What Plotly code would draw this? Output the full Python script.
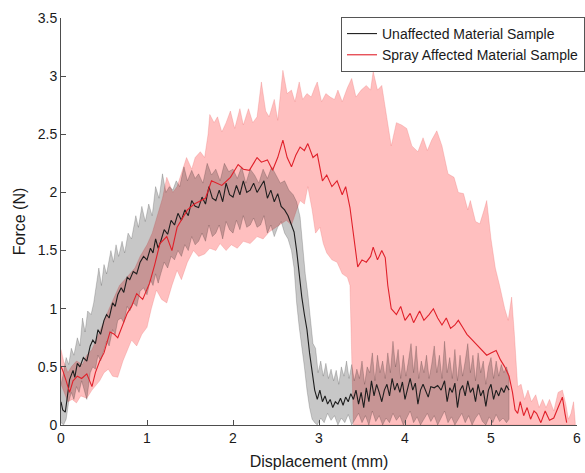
import plotly.graph_objects as go

# (displacement mm, force N)
red_mean = [
    (0.00, 0.50), (0.02, 0.47), (0.06, 0.38), (0.10, 0.28), (0.14, 0.38), (0.19, 0.42),
    (0.24, 0.40), (0.30, 0.44), (0.36, 0.33), (0.40, 0.45), (0.45, 0.55), (0.50, 0.62),
    (0.57, 0.80), (0.62, 0.78), (0.66, 0.75), (0.72, 0.86), (0.77, 0.96), (0.82, 1.02),
    (0.88, 1.13), (0.95, 1.08), (1.03, 1.22), (1.09, 1.38), (1.15, 1.56), (1.23, 1.62),
    (1.29, 1.50), (1.35, 1.70), (1.41, 1.78), (1.47, 1.85), (1.55, 1.90), (1.62, 1.93),
    (1.68, 1.95), (1.75, 2.10), (1.81, 2.08), (1.87, 2.06), (1.97, 2.13), (2.06, 2.24),
    (2.12, 2.20), (2.19, 2.19), (2.28, 2.30), (2.33, 2.26), (2.40, 2.28), (2.46, 2.19),
    (2.52, 2.30), (2.58, 2.45), (2.63, 2.30), (2.68, 2.22), (2.73, 2.32), (2.78, 2.39),
    (2.83, 2.36), (2.87, 2.42), (2.93, 2.30), (2.98, 2.33), (3.04, 2.10), (3.09, 2.15),
    (3.15, 2.05), (3.21, 2.10), (3.27, 1.98), (3.31, 2.05), (3.36, 1.87), (3.39, 1.70),
    (3.45, 1.36), (3.50, 1.42), (3.55, 1.40), (3.60, 1.45), (3.63, 1.53), (3.68, 1.42),
    (3.73, 1.50), (3.77, 1.44), (3.80, 1.20), (3.84, 1.00), (3.90, 0.95), (3.95, 1.02),
    (4.00, 0.90), (4.06, 0.96), (4.10, 0.88), (4.17, 0.98), (4.22, 0.90), (4.28, 0.95),
    (4.33, 1.00), (4.38, 0.92), (4.43, 0.86), (4.48, 0.92), (4.53, 0.83), (4.58, 0.86),
    (4.62, 0.90), (4.67, 0.84), (4.72, 0.78), (4.77, 0.74), (4.82, 0.70), (4.88, 0.66),
    (4.95, 0.60), (5.00, 0.62), (5.06, 0.64), (5.11, 0.56), (5.16, 0.50), (5.21, 0.42),
    (5.25, 0.28), (5.28, 0.13), (5.31, 0.10), (5.34, 0.20), (5.38, 0.08), (5.42, 0.15),
    (5.46, 0.05), (5.50, 0.12), (5.53, 0.10), (5.58, 0.02), (5.63, 0.12), (5.68, 0.04),
    (5.73, 0.06), (5.78, 0.15), (5.83, 0.24), (5.86, 0.10), (5.88, 0.02),
]

red_upper = [
    (0.00, 0.65), (0.03, 0.55), (0.08, 0.45), (0.12, 0.50), (0.18, 0.55), (0.25, 0.52),
    (0.30, 0.60), (0.36, 0.65), (0.42, 0.75), (0.50, 0.90), (0.56, 1.00), (0.62, 1.10),
    (0.68, 1.20), (0.74, 1.25), (0.80, 1.30), (0.86, 1.35), (0.92, 1.45), (1.00, 1.55),
    (1.06, 1.65), (1.12, 1.80), (1.18, 1.95), (1.23, 2.13), (1.30, 2.00), (1.35, 2.05),
    (1.40, 2.16), (1.46, 2.30), (1.52, 2.20), (1.56, 2.30), (1.62, 2.35), (1.67, 2.30),
    (1.71, 2.50), (1.73, 2.67), (1.78, 2.60), (1.82, 2.65), (1.87, 2.52), (1.92, 2.60),
    (1.97, 2.70), (2.02, 2.55), (2.08, 2.72), (2.12, 2.58), (2.18, 2.72), (2.23, 2.60),
    (2.28, 2.65), (2.33, 2.95), (2.38, 2.70), (2.42, 2.65), (2.48, 2.80), (2.52, 2.62),
    (2.58, 3.05), (2.63, 2.85), (2.68, 2.88), (2.72, 2.78), (2.77, 2.95), (2.81, 2.80),
    (2.86, 2.85), (2.91, 2.82), (2.95, 2.90), (2.98, 2.95), (3.03, 2.78), (3.08, 2.85),
    (3.13, 2.82), (3.18, 2.80), (3.22, 2.88), (3.27, 2.78), (3.33, 2.90), (3.38, 2.98),
    (3.43, 2.82), (3.49, 2.88), (3.55, 2.92), (3.60, 2.88), (3.63, 3.04), (3.68, 2.88),
    (3.73, 2.92), (3.78, 2.70), (3.84, 2.40), (3.90, 2.60), (3.96, 2.58), (4.02, 2.55),
    (4.08, 2.40), (4.15, 2.35), (4.21, 2.47), (4.26, 2.36), (4.31, 2.45), (4.37, 2.53),
    (4.43, 2.40), (4.50, 2.16), (4.57, 2.13), (4.62, 2.00), (4.68, 1.99), (4.73, 1.85),
    (4.76, 1.93), (4.82, 1.75), (4.87, 1.73), (4.92, 1.85), (4.95, 1.93), (5.00, 1.60),
    (5.05, 1.35), (5.10, 1.20), (5.16, 1.00), (5.20, 0.90), (5.24, 1.10), (5.27, 0.80),
    (5.31, 0.33), (5.35, 0.35), (5.39, 0.22), (5.43, 0.30), (5.47, 0.20), (5.52, 0.26),
    (5.56, 0.15), (5.60, 0.22), (5.64, 0.15), (5.68, 0.22), (5.73, 0.12), (5.78, 0.28),
    (5.83, 0.30), (5.87, 0.18), (5.90, 0.05), (5.93, 0.10), (5.96, 0.20), (5.98, 0.02),
]

red_lower = [
    (0.00, 0.35), (0.04, 0.28), (0.08, 0.20), (0.13, 0.22), (0.18, 0.19), (0.23, 0.25),
    (0.30, 0.23), (0.36, 0.30), (0.45, 0.38), (0.50, 0.45), (0.55, 0.48), (0.60, 0.42),
    (0.66, 0.41), (0.72, 0.55), (0.77, 0.64), (0.82, 0.73), (0.88, 0.68), (0.94, 0.78),
    (1.00, 0.84), (1.05, 1.00), (1.11, 1.16), (1.17, 1.08), (1.23, 1.05), (1.29, 1.20),
    (1.35, 1.33), (1.40, 1.25), (1.47, 1.40), (1.54, 1.50), (1.60, 1.45), (1.67, 1.47),
    (1.73, 1.52), (1.80, 1.50), (1.85, 1.56), (1.92, 1.50), (1.98, 1.55), (2.05, 1.52),
    (2.12, 1.58), (2.20, 1.56), (2.28, 1.62), (2.35, 1.60), (2.42, 1.66), (2.50, 1.70),
    (2.56, 1.73), (2.62, 1.76), (2.68, 1.72), (2.74, 1.85), (2.78, 1.93), (2.83, 1.90),
    (2.87, 2.05), (2.92, 1.85), (2.96, 1.65), (3.01, 1.70), (3.05, 1.56), (3.09, 1.48),
    (3.15, 1.42), (3.21, 1.40), (3.27, 1.30), (3.33, 1.27), (3.36, 1.20), (3.38, 0.60),
    (3.40, 0.00), (5.30, 0.00), (5.98, 0.00),
]

black_mean = [
    (0.00, 0.20), (0.02, 0.13), (0.05, 0.11), (0.08, 0.30), (0.10, 0.39), (0.14, 0.47),
    (0.16, 0.41), (0.19, 0.53), (0.22, 0.50), (0.26, 0.58), (0.30, 0.55), (0.34, 0.68),
    (0.37, 0.73), (0.40, 0.70), (0.43, 0.82), (0.46, 0.78), (0.50, 0.90), (0.53, 0.95),
    (0.56, 0.92), (0.60, 1.05), (0.63, 1.02), (0.66, 1.12), (0.70, 1.18), (0.73, 1.14),
    (0.77, 1.27), (0.80, 1.25), (0.84, 1.32), (0.88, 1.30), (0.92, 1.40), (0.96, 1.45),
    (1.00, 1.42), (1.04, 1.52), (1.07, 1.48), (1.10, 1.60), (1.13, 1.52), (1.16, 1.58),
    (1.20, 1.68), (1.24, 1.64), (1.28, 1.76), (1.32, 1.72), (1.36, 1.82), (1.40, 1.76),
    (1.44, 1.85), (1.48, 1.80), (1.52, 1.93), (1.56, 1.88), (1.60, 1.87), (1.64, 1.96),
    (1.68, 1.90), (1.72, 2.05), (1.76, 1.95), (1.80, 1.93), (1.84, 2.02), (1.88, 1.92),
    (1.92, 2.08), (1.96, 1.98), (2.00, 1.96), (2.04, 2.06), (2.08, 1.98), (2.12, 2.10),
    (2.16, 2.00), (2.20, 2.02), (2.24, 2.08), (2.28, 2.00), (2.32, 2.05), (2.36, 2.10),
    (2.40, 1.95), (2.44, 2.02), (2.48, 1.92), (2.52, 1.99), (2.56, 1.88), (2.60, 1.85),
    (2.64, 1.80), (2.68, 1.72), (2.71, 1.66), (2.74, 1.50), (2.77, 1.28), (2.80, 1.10),
    (2.83, 0.95), (2.86, 0.82), (2.89, 0.62), (2.92, 0.45), (2.95, 0.30), (2.98, 0.22),
    (3.01, 0.30), (3.04, 0.20), (3.07, 0.25), (3.10, 0.18), (3.13, 0.22), (3.16, 0.15),
    (3.19, 0.20), (3.22, 0.18), (3.25, 0.23), (3.28, 0.17), (3.31, 0.24), (3.34, 0.20),
    (3.37, 0.27), (3.40, 0.22), (3.43, 0.30), (3.46, 0.18), (3.49, 0.28), (3.52, 0.15),
    (3.55, 0.32), (3.58, 0.20), (3.61, 0.38), (3.64, 0.25), (3.67, 0.35), (3.70, 0.28),
    (3.73, 0.20), (3.76, 0.30), (3.79, 0.35), (3.82, 0.25), (3.85, 0.40), (3.88, 0.30),
    (3.91, 0.36), (3.94, 0.28), (3.97, 0.37), (4.00, 0.22), (4.03, 0.32), (4.06, 0.40),
    (4.09, 0.30), (4.12, 0.36), (4.15, 0.18), (4.18, 0.30), (4.21, 0.35), (4.24, 0.30),
    (4.27, 0.24), (4.30, 0.33), (4.34, 0.32), (4.38, 0.34), (4.42, 0.30), (4.46, 0.38),
    (4.49, 0.20), (4.52, 0.32), (4.55, 0.28), (4.58, 0.36), (4.61, 0.15), (4.64, 0.30),
    (4.67, 0.34), (4.70, 0.25), (4.73, 0.38), (4.76, 0.28), (4.79, 0.32), (4.82, 0.20),
    (4.85, 0.35), (4.88, 0.25), (4.91, 0.30), (4.94, 0.16), (4.97, 0.30), (5.00, 0.35),
    (5.03, 0.22), (5.06, 0.30), (5.09, 0.25), (5.12, 0.32), (5.15, 0.28), (5.18, 0.34),
    (5.21, 0.30),
]

black_upper = [
    (0.00, 0.35), (0.03, 0.45), (0.06, 0.58), (0.09, 0.52), (0.12, 0.66), (0.15, 0.60),
    (0.19, 0.75), (0.22, 0.68), (0.25, 0.92), (0.28, 0.80), (0.31, 0.98), (0.35, 0.95),
    (0.38, 1.05), (0.41, 1.20), (0.44, 1.35), (0.47, 1.20), (0.50, 1.38), (0.53, 1.30),
    (0.58, 1.50), (0.61, 1.40), (0.64, 1.55), (0.67, 1.45), (0.71, 1.58), (0.74, 1.48),
    (0.78, 1.65), (0.82, 1.60), (0.87, 1.80), (0.90, 1.70), (0.94, 1.88), (0.98, 1.75),
    (1.02, 1.90), (1.06, 1.80), (1.10, 2.05), (1.14, 1.95), (1.18, 2.16), (1.22, 2.00),
    (1.26, 2.05), (1.30, 2.02), (1.34, 2.10), (1.38, 2.05), (1.43, 2.22), (1.47, 2.10),
    (1.52, 2.19), (1.56, 2.12), (1.60, 2.16), (1.65, 2.08), (1.70, 2.25), (1.75, 2.15),
    (1.80, 2.20), (1.85, 2.10), (1.90, 2.25), (1.95, 2.18), (2.00, 2.20), (2.05, 2.12),
    (2.10, 2.22), (2.15, 2.08), (2.20, 2.20), (2.25, 2.15), (2.30, 2.08), (2.35, 2.20),
    (2.40, 2.12), (2.45, 2.22), (2.50, 2.15), (2.55, 2.08), (2.60, 2.10), (2.65, 2.02),
    (2.70, 1.98), (2.74, 1.92), (2.78, 1.79), (2.81, 1.53), (2.84, 1.30), (2.87, 1.13),
    (2.90, 0.90), (2.93, 0.70), (2.96, 0.66), (2.99, 0.45), (3.02, 0.55), (3.05, 0.42),
    (3.08, 0.53), (3.11, 0.40), (3.14, 0.48), (3.17, 0.38), (3.20, 0.47), (3.23, 0.35),
    (3.26, 0.50), (3.29, 0.42), (3.32, 0.55), (3.35, 0.40), (3.38, 0.52), (3.41, 0.38),
    (3.44, 0.48), (3.47, 0.40), (3.50, 0.55), (3.53, 0.35), (3.56, 0.50), (3.59, 0.45),
    (3.62, 0.62), (3.65, 0.38), (3.68, 0.60), (3.71, 0.45), (3.74, 0.55), (3.77, 0.40),
    (3.80, 0.62), (3.83, 0.45), (3.86, 0.72), (3.89, 0.50), (3.92, 0.65), (3.95, 0.40),
    (3.98, 0.60), (4.01, 0.42), (4.04, 0.55), (4.07, 0.70), (4.10, 0.45), (4.13, 0.68),
    (4.16, 0.40), (4.19, 0.55), (4.22, 0.45), (4.25, 0.60), (4.28, 0.40), (4.31, 0.52),
    (4.34, 0.68), (4.37, 0.45), (4.40, 0.60), (4.43, 0.40), (4.46, 0.72), (4.49, 0.45),
    (4.52, 0.58), (4.55, 0.40), (4.58, 0.65), (4.61, 0.38), (4.64, 0.60), (4.67, 0.42),
    (4.70, 0.55), (4.73, 0.70), (4.76, 0.45), (4.79, 0.60), (4.82, 0.38), (4.85, 0.62),
    (4.88, 0.45), (4.91, 0.55), (4.94, 0.35), (4.97, 0.50), (5.00, 0.58), (5.03, 0.40),
    (5.06, 0.55), (5.09, 0.42), (5.12, 0.52), (5.15, 0.45), (5.18, 0.50), (5.21, 0.42),
]

black_lower = [
    (0.00, 0.02), (0.03, 0.00), (0.06, 0.05), (0.09, 0.20), (0.12, 0.28), (0.15, 0.22),
    (0.18, 0.33), (0.21, 0.28), (0.24, 0.38), (0.27, 0.30), (0.30, 0.22), (0.34, 0.45),
    (0.37, 0.50), (0.40, 0.48), (0.43, 0.60), (0.46, 0.55), (0.50, 0.65), (0.53, 0.72),
    (0.56, 0.68), (0.60, 0.82), (0.63, 0.78), (0.66, 0.90), (0.70, 0.92), (0.73, 0.88),
    (0.77, 1.02), (0.80, 0.98), (0.84, 1.05), (0.88, 1.02), (0.92, 1.15), (0.96, 1.18),
    (1.00, 1.12), (1.04, 1.25), (1.07, 1.20), (1.10, 1.30), (1.13, 1.22), (1.16, 1.30),
    (1.20, 1.40), (1.24, 1.35), (1.28, 1.45), (1.32, 1.42), (1.36, 1.50), (1.40, 1.45),
    (1.44, 1.55), (1.48, 1.50), (1.52, 1.62), (1.56, 1.55), (1.60, 1.58), (1.64, 1.65),
    (1.68, 1.58), (1.72, 1.72), (1.76, 1.62), (1.80, 1.65), (1.84, 1.72), (1.88, 1.60),
    (1.92, 1.75), (1.96, 1.68), (2.00, 1.65), (2.04, 1.76), (2.08, 1.68), (2.12, 1.80),
    (2.16, 1.70), (2.20, 1.72), (2.24, 1.78), (2.28, 1.70), (2.32, 1.72), (2.36, 1.80),
    (2.40, 1.65), (2.44, 1.72), (2.48, 1.62), (2.52, 1.70), (2.56, 1.75), (2.60, 1.65),
    (2.64, 1.60), (2.68, 1.50), (2.71, 1.35), (2.74, 1.05), (2.77, 0.84), (2.80, 0.65),
    (2.83, 0.50), (2.86, 0.30), (2.89, 0.15), (2.92, 0.05), (2.95, 0.02), (2.98, 0.00),
    (3.02, 0.06), (3.06, 0.02), (3.10, 0.10), (3.14, 0.04), (3.18, 0.08), (3.22, 0.00),
    (3.26, 0.06), (3.30, 0.02), (3.34, 0.09), (3.38, 0.00), (3.42, 0.05), (3.46, 0.10),
    (3.50, 0.02), (3.54, 0.08), (3.58, 0.00), (3.62, 0.12), (3.66, 0.03), (3.70, 0.08),
    (3.74, 0.00), (3.78, 0.06), (3.82, 0.02), (3.86, 0.10), (3.90, 0.04), (3.94, 0.08),
    (3.98, 0.00), (4.02, 0.06), (4.06, 0.12), (4.10, 0.02), (4.14, 0.07), (4.18, 0.00),
    (4.22, 0.05), (4.26, 0.10), (4.30, 0.03), (4.34, 0.08), (4.38, 0.00), (4.42, 0.06),
    (4.46, 0.12), (4.50, 0.02), (4.54, 0.07), (4.58, 0.00), (4.62, 0.05), (4.66, 0.10),
    (4.70, 0.02), (4.74, 0.08), (4.78, 0.00), (4.82, 0.06), (4.86, 0.10), (4.90, 0.03),
    (4.94, 0.00), (4.98, 0.07), (5.02, 0.02), (5.06, 0.09), (5.10, 0.03), (5.14, 0.06),
    (5.18, 0.02), (5.21, 0.05),
]

series_names = ["Unaffected Material Sample", "Spray Affected Material Sample"]


def band(upper, lower, fill, edge):
    ux, uy = zip(*upper)
    lx, ly = zip(*lower)
    return go.Scatter(
        x=list(ux) + list(lx[::-1]),
        y=list(uy) + list(ly[::-1]),
        mode="lines",
        fill="toself",
        fillcolor=fill,
        line=dict(color=edge, width=0.8),
        showlegend=False,
        hoverinfo="skip",
    )


fig = go.Figure()

fig.add_trace(band(red_upper, red_lower, "rgba(255,0,0,0.25)", "rgba(230,90,90,0.3)"))
fig.add_trace(band(black_upper, black_lower, "rgba(0,0,0,0.22)", "rgba(0,0,0,0.22)"))

bx, by = zip(*black_mean)
fig.add_trace(go.Scatter(x=bx, y=by, mode="lines", name=series_names[0],
                         line=dict(color="#1e1e1e", width=1.1)))
rx, ry = zip(*red_mean)
fig.add_trace(go.Scatter(x=rx, y=ry, mode="lines", name=series_names[1],
                         line=dict(color="#e0202a", width=1.1)))

axis_style = dict(
    showline=True,
    linecolor="#4d4d4d",
    linewidth=1,
    ticks="inside",
    ticklen=5,
    tickcolor="#4d4d4d",
    showgrid=False,
    zeroline=False,
    automargin=False,
    tickfont=dict(size=14, color="#1a1a1a"),
)

fig.update_layout(
    width=585,
    height=473,
    margin=dict(l=61, r=8, t=18, b=48, autoexpand=False),
    paper_bgcolor="white",
    plot_bgcolor="white",
    font=dict(family="Liberation Sans, Arial, sans-serif", color="#1a1a1a"),
    xaxis=dict(range=[0, 6], dtick=1,
               title=dict(text="Displacement (mm)", font=dict(size=16), standoff=11),
               **axis_style),
    yaxis=dict(range=[0, 3.5], dtick=0.5,
               title=dict(text="Force (N)", font=dict(size=16), standoff=8),
               **axis_style),
    legend=dict(
        x=1.0155,
        y=1.0025,
        xanchor="right",
        yanchor="top",
        bgcolor="white",
        bordercolor="#555555",
        borderwidth=1,
        font=dict(size=14, color="#1a1a1a"),
        tracegroupgap=0,
    ),
)

# the page body has a default 8px margin; drop it so the figure sits at the window origin
fig.write_html(
    "out.html",
    config={"displayModeBar": False},
    post_script="document.body.style.margin = '0';",
)
